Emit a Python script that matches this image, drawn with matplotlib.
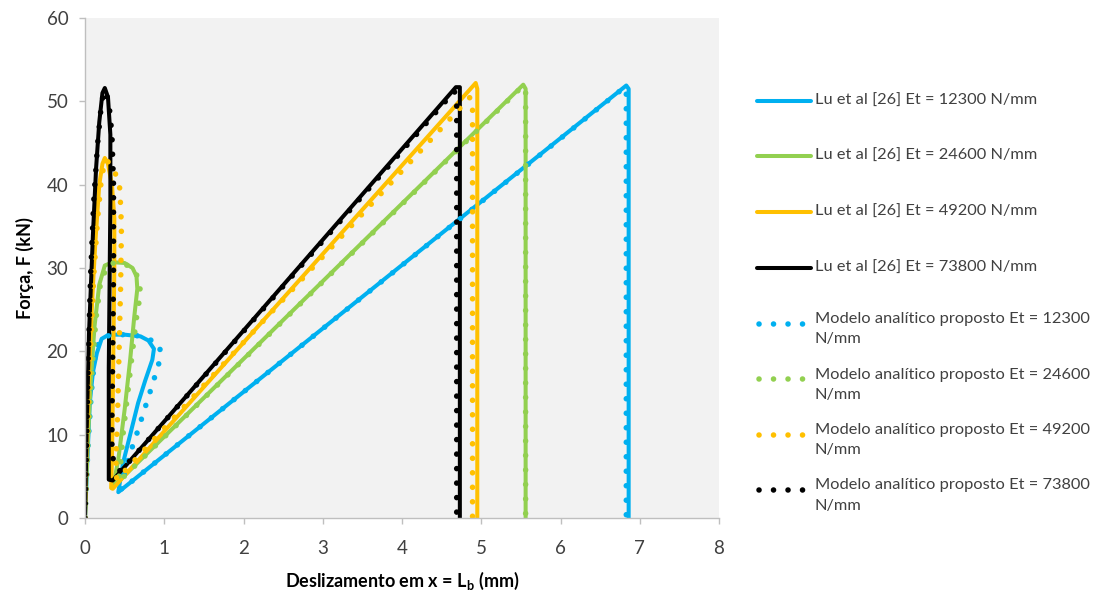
import matplotlib
matplotlib.use('Agg')
import matplotlib.pyplot as plt
from matplotlib.lines import Line2D

plt.rcParams['font.family'] = ['Lato', 'DejaVu Sans']
plt.rcParams['mathtext.fontset'] = 'custom'
plt.rcParams['mathtext.rm'] = 'Lato'
plt.rcParams['mathtext.bf'] = 'Lato:bold'

# Lu et al [26] curves (solid)
lu_12300_x = [0, 0.03, 0.06, 0.1, 0.15, 0.21, 0.3, 0.5, 0.7, 0.8, 0.87, 0.85, 0.76, 0.67, 0.57, 0.48, 0.42, 6.83, 6.86, 6.86]
lu_12300_f = [0, 7, 13.8, 17.5, 19.8, 21.5, 22, 22, 21.8, 21.3, 20.3, 19, 16.5, 13.8, 10, 6.6, 3.1, 51.9, 51.5, 0]
lu_24600_x = [0, 0.03, 0.07, 0.12, 0.18, 0.25, 0.35, 0.5, 0.6, 0.65, 0.66, 0.62, 0.57, 0.5, 0.42, 0.36, 0.35, 5.53, 5.56, 5.56]
lu_24600_f = [0, 8, 16, 23, 28, 30.3, 30.7, 30.6, 30, 29, 27.5, 24, 19, 13, 7, 4, 3.7, 52, 51.5, 0]
lu_49200_x = [0, 0.02, 0.05, 0.09, 0.13, 0.18, 0.22, 0.25, 0.29, 0.34, 0.37, 0.37, 0.36, 0.35, 0.34, 0.33, 0.35, 4.93, 4.95, 4.95]
lu_49200_f = [0, 8, 17, 26, 33, 40, 42.5, 43.2, 42.5, 40, 36, 30, 22, 14, 7, 3.6, 3.5, 52.2, 51.5, 0]
lu_73800_x = [0, 0.02, 0.05, 0.1, 0.14, 0.18, 0.22, 0.25, 0.29, 0.32, 0.32, 0.31, 0.3, 0.3, 0.3, 0.35, 4.68, 4.73, 4.73]
lu_73800_f = [0, 10, 22, 34, 42, 47.5, 51, 51.6, 50.5, 46, 38, 28, 18, 10, 4.6, 4.5, 51.7, 51.7, 0]

# Modelo analitico proposto (dotted)
mod_12300_x = [0, 0.04, 0.08, 0.12, 0.17, 0.25, 0.4, 0.6, 0.78, 0.9, 0.95, 0.93, 0.85, 0.75, 0.65, 0.56, 0.5, 0.46, 6.81, 6.83, 6.83]
mod_12300_f = [0, 9, 15, 19, 21, 21.8, 22, 22, 21.6, 21, 20.6, 18.5, 16, 13, 10, 7.5, 5.5, 3.4, 51.7, 51, 0]
mod_24600_x = [0, 0.04, 0.09, 0.14, 0.2, 0.3, 0.45, 0.6, 0.68, 0.7, 0.65, 0.6, 0.54, 0.48, 0.45, 0.42, 5.52, 5.56, 5.56]
mod_24600_f = [0, 10, 18, 24, 28.5, 30.5, 30.7, 30, 28.7, 27, 24, 20, 15, 10, 6.5, 4.3, 51.8, 51.5, 0]
mod_49200_x = [0, 0.03, 0.07, 0.11, 0.16, 0.21, 0.26, 0.32, 0.4, 0.44, 0.46, 0.45, 0.43, 0.41, 0.39, 0.4, 4.86, 4.89, 4.89]
mod_49200_f = [0, 10, 20, 29, 36, 41, 43, 42.5, 41, 39.5, 35, 28, 20, 12, 7, 4.6, 50.5, 50, 0]
mod_73800_x = [0, 0.02, 0.04, 0.07, 0.11, 0.16, 0.21, 0.25, 0.3, 0.34, 0.36, 0.36, 0.35, 0.34, 0.34, 0.37, 0.45, 4.66, 4.69, 4.69]
mod_73800_f = [0, 9, 19, 29, 38, 45, 50, 51.3, 50, 46, 40, 30, 20, 12, 8, 6.3, 5.6, 51.2, 50.5, 0]

colors = ['#00b0f0', '#92d050', '#ffc000', '#000000']
lu_labels = ['Lu et al [26] Et = 12300 N/mm', 'Lu et al [26] Et = 24600 N/mm',
             'Lu et al [26] Et = 49200 N/mm', 'Lu et al [26] Et = 73800 N/mm']
mod_labels = ['Modelo analítico proposto Et = 12300\nN/mm', 'Modelo analítico proposto Et = 24600\nN/mm',
              'Modelo analítico proposto Et = 49200\nN/mm', 'Modelo analítico proposto Et = 73800\nN/mm']

lu_series = [(lu_12300_x, lu_12300_f), (lu_24600_x, lu_24600_f),
             (lu_49200_x, lu_49200_f), (lu_73800_x, lu_73800_f)]
mod_series = [(mod_12300_x, mod_12300_f), (mod_24600_x, mod_24600_f),
              (mod_49200_x, mod_49200_f), (mod_73800_x, mod_73800_f)]

W, H = 1101, 596
fig = plt.figure(figsize=(W / 100, H / 100), dpi=100)
ax = fig.add_axes([85 / W, 1 - 518 / H, 634 / W, 500 / H])
ax.set_facecolor('#f2f2f2')

solid_kw = dict(lw=2.9, solid_capstyle='round', solid_joinstyle='round')
dot_kw = dict(lw=4.0, linestyle=(0, (0.01, 2.6)), dash_capstyle='round')

for (x, f), c in zip(lu_series, colors):
    ax.plot(x, f, color=c, **solid_kw)
for (x, f), c in zip(mod_series, colors):
    ax.plot(x, f, color=c, **dot_kw)

ax.set_xlim(0, 8)
ax.set_ylim(0, 60)
ax.set_xticks(range(0, 9))
ax.set_yticks(range(0, 61, 10))
for s in ['top', 'right']:
    ax.spines[s].set_visible(False)
for s in ['left', 'bottom']:
    ax.spines[s].set_color('#bfbfbf')
    ax.spines[s].set_linewidth(1.0)
ax.tick_params(direction='out', length=4, width=1, color='#bfbfbf', labelsize=13.5, labelcolor='#404040')
ax.tick_params(axis='x', pad=12)
ax.tick_params(axis='y', pad=8)

ax.set_xlabel(r'Deslizamento em x = L$_{\mathbf{b}}$ (mm)', fontsize=13, fontweight='bold', labelpad=9)
ax.set_ylabel('Força, F (kN)', fontsize=13, fontweight='bold', labelpad=9)

# legend on the right
x0, x1, tx = 757 / W, 811 / W, 815 / W
for i, (lab, c) in enumerate(zip(lu_labels, colors)):
    y = 1 - (100.5 + 55.7 * i) / H
    fig.add_artist(Line2D([x0, x1], [y, y], transform=fig.transFigure, color=c, **solid_kw))
    fig.text(tx, y, lab, fontsize=11.8, va='center', ha='left', color='#404040')
for i, (lab, c) in enumerate(zip(mod_labels, colors)):
    y = 1 - (323.5 + 55.5 * i) / H
    fig.add_artist(Line2D([759 / W, 805 / W], [y, y], transform=fig.transFigure, color=c, **dot_kw))
    fig.text(tx, y + 11.5 / H, lab, fontsize=11.8, va='top', ha='left', color='#404040', linespacing=1.55)

fig.savefig('out.png', dpi=100)
